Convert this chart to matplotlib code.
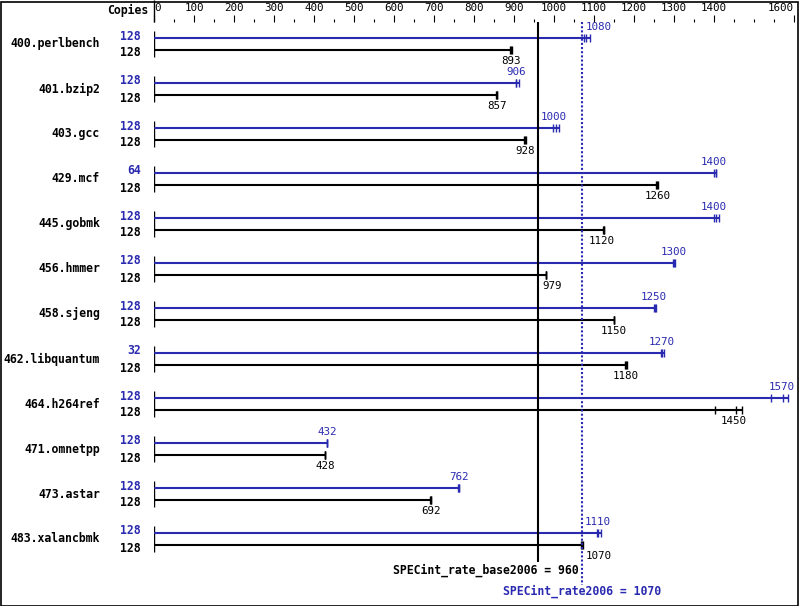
import matplotlib.pyplot as plt
import numpy as np

benchmarks = ['400.perlbench', '401.bzip2', '403.gcc', '429.mcf', '445.gobmk',
              '456.hmmer', '458.sjeng', '462.libquantum', '464.h264ref',
              '471.omnetpp', '473.astar', '483.xalancbmk']
base_copies = [128, 128, 128, 128, 128, 128, 128, 128, 128, 128, 128, 128]
peak_copies = [128, 128, 128, 64, 128, 128, 128, 32, 128, 128, 128, 128]
base_ratio = [893, 857, 928, 1260, 1120, 979, 1150, 1180, 1450, 428, 692, 1070]
peak_ratio = [1080, 906, 1000, 1400, 1400, 1300, 1250, 1270, 1570, 432, 762, 1110]
base_runs = [[891, 893, 896], [855, 857, 858], [926, 928, 931], [1255, 1258, 1260],
             [1123, 1124, 1124], [979, 979, 981], [1149, 1150, 1151], [1178, 1180, 1182],
             [1402, 1454, 1470], [427, 428, 428], [690, 692, 693], [1068, 1070, 1073]]
peak_runs = [[1076, 1080, 1090], [905, 906, 913], [998, 1004, 1012], [1401, 1404, 1405],
             [1400, 1404, 1412], [1298, 1300, 1302], [1250, 1252, 1256], [1268, 1271, 1275],
             [1543, 1573, 1585], [432, 432, 433], [760, 762, 763], [1107, 1110, 1117]]
base_mean = 960
peak_mean = 1070

BLUE = '#2a2ab0'
W, H = 799, 606
X0, X1 = 154, 794       # pixel columns of 0 and 1600
ROW0, ROWH = 44, 45     # pixel row of first benchmark, spacing
TOP = 22
OFF = 12 / 45 / 2       # half distance between peak and base bars (rows)

mono = 'DejaVu Sans Mono'
plt.rcParams['font.family'] = mono

fig = plt.figure(figsize=(W / 100, H / 100), dpi=100)
ax = fig.add_axes([X0 / W, 0, (X1 - X0) / W, (H - TOP) / H])
ax.set_xlim(0, 1600)
ax.set_ylim((H - ROW0) / ROWH, (TOP - ROW0) / ROWH)
for s in ax.spines.values():
    s.set_visible(False)
ax.yaxis.set_visible(False)
ax.xaxis.set_ticks_position('top')
major = list(range(0, 1500, 100)) + [1600]
ax.set_xticks(major)
ax.set_xticks([v for v in range(50, 1600, 50) if v not in major], minor=True)
ax.tick_params(axis='x', which='major', length=5, width=0.8, pad=1.5, labelsize=7.8)
ax.tick_params(axis='x', which='minor', length=2.5, width=0.8)
labels = ax.get_xticklabels()
labels[0].set_ha('left')
labels[-1].set_ha('right')

top_row = (TOP - ROW0) / ROWH
fig_top_row = (0 - ROW0) / ROWH
px = 1600 / (X1 - X0)   # data units per pixel

# ruler left edge
ax.vlines(0, fig_top_row, top_row, color='black', lw=1, clip_on=False)
ax.annotate('Copies', (0, top_row), xytext=(-6, 12), textcoords='offset pixels',
            ha='right', va='center', fontsize=8.3, fontweight='bold', annotation_clip=False)

def place_label(val, text, y, dy, color):
    half = len(text) * 6.5 / 2 * px
    ha, x = 'center', val
    for ref in (base_mean, peak_mean):
        if val - half < ref < val + half:
            ha, x = 'left', ref + 4 * px
    ax.annotate(text, (x, y), xytext=(0, dy), textcoords='offset pixels',
                ha=ha, va='center', fontsize=7.8, color=color, annotation_clip=False)

tick_h = 4 / ROWH
for i, name in enumerate(benchmarks):
    yp, yb = i - OFF, i + OFF
    ax.vlines(0, yp - 7 / ROWH, yb + 7 / ROWH, color='black', lw=1)
    ax.annotate(name, (0, i), xytext=(-54, 0), textcoords='offset pixels',
                ha='right', va='center', fontsize=8.3, fontweight='bold', annotation_clip=False)
    ax.annotate(str(peak_copies[i]), (0, yp), xytext=(-13, 2), textcoords='offset pixels',
                ha='right', va='center', fontsize=8.3, fontweight='bold', color=BLUE,
                annotation_clip=False)
    ax.annotate(str(base_copies[i]), (0, yb), xytext=(-13, -3), textcoords='offset pixels',
                ha='right', va='center', fontsize=8.3, fontweight='bold', color='black',
                annotation_clip=False)
    ax.hlines(yp, 0, max(peak_runs[i]), color=BLUE, lw=1.5)
    ax.hlines(yb, 0, max(base_runs[i]), color='black', lw=1.5)
    ax.vlines(peak_runs[i], yp - tick_h, yp + tick_h, color=BLUE, lw=1)
    ax.vlines(base_runs[i], yb - tick_h, yb + tick_h, color='black', lw=1)
    place_label(peak_ratio[i], str(peak_ratio[i]), yp, 11, BLUE)
    place_label(base_ratio[i], str(base_ratio[i]), yb, -11, 'black')

# overall means
ax.vlines(base_mean, top_row, (562 - ROW0) / ROWH, color='black', lw=1.5)
ax.vlines(peak_mean, top_row, (585 - ROW0) / ROWH, color=BLUE, lw=1.5,
          linestyles=(0, (1, 1)), clip_on=False)
ax.annotate(f'SPECint_rate_base2006 = {base_mean}', (peak_mean, (570 - ROW0) / ROWH),
            xytext=(-3, 0), textcoords='offset pixels', ha='right', va='center',
            fontsize=8.3, fontweight='bold', color='black')
ax.annotate(f'SPECint_rate2006 = {peak_mean}', (peak_mean, (591 - ROW0) / ROWH),
            ha='center', va='center', fontsize=8.3, fontweight='bold', color=BLUE)

# frame around the whole picture
fig.patches.append(plt.Rectangle((0.5 / W, 0.5 / H), 1 - 2 / W, 1 - 2 / H,
                                 transform=fig.transFigure, fill=False,
                                 edgecolor='black', lw=1.2))

fig.savefig('out.png', dpi=100)
